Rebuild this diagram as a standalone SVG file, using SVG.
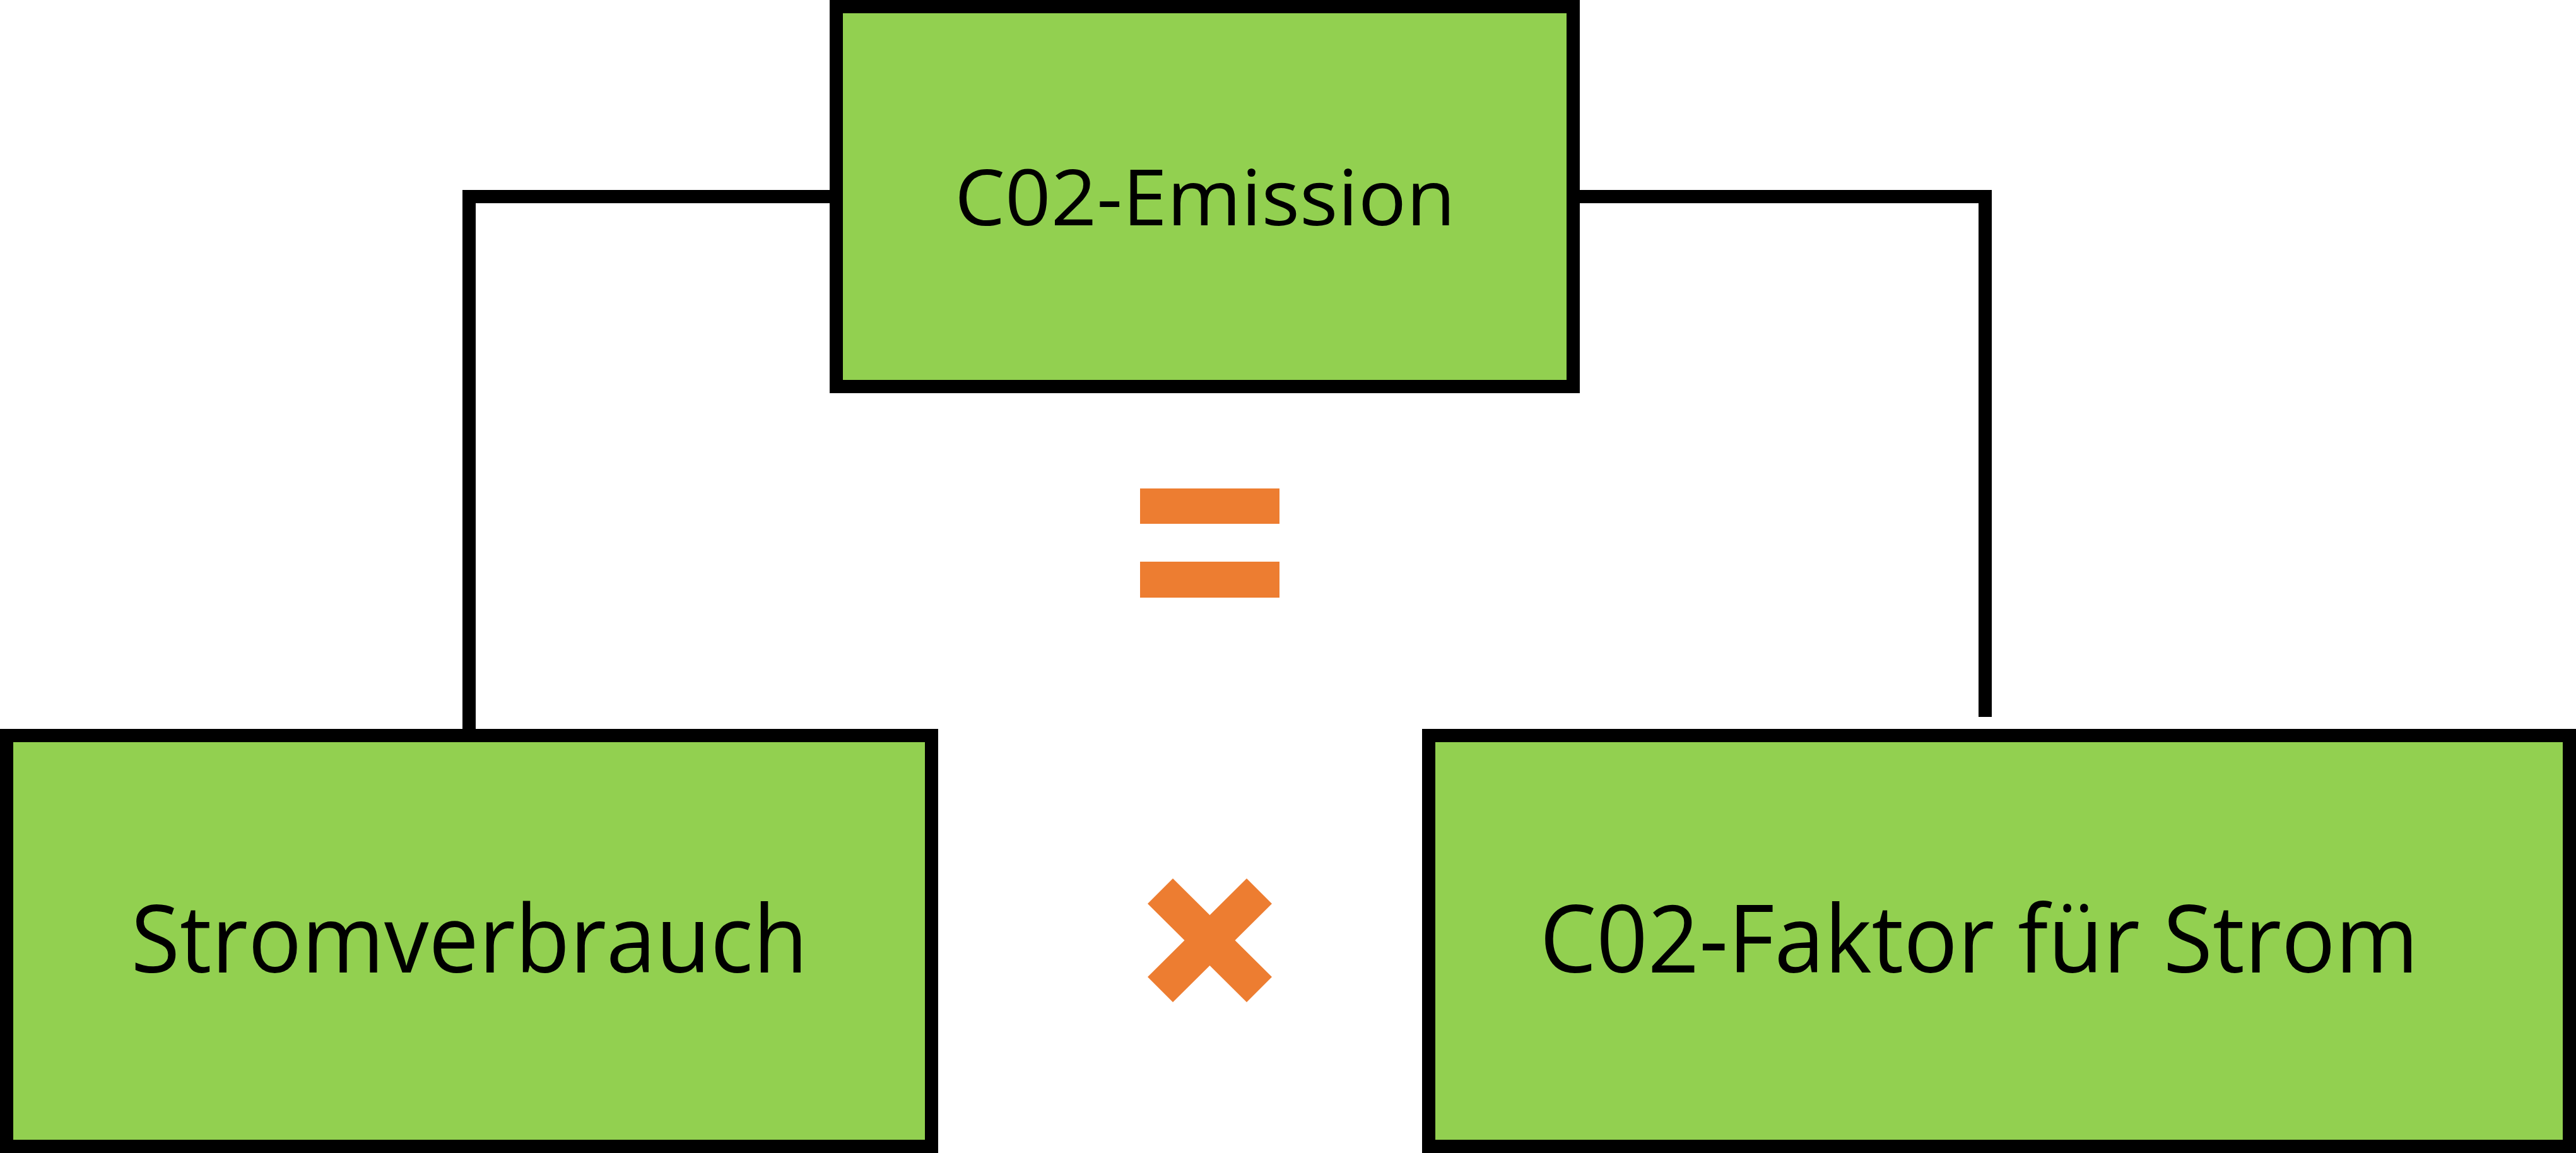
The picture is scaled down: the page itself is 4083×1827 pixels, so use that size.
<svg xmlns="http://www.w3.org/2000/svg" width="4083" height="1827" viewBox="0 0 4083 1827">
<style>
.box{fill:#92d050;stroke:#000;stroke-width:21}
.lbl{font-family:"Open Sans","Liberation Sans",sans-serif;fill:#000;text-anchor:middle}
.conn{fill:none;stroke:#000;stroke-width:21}
.op{fill:#ed7d31}
</style>
<rect width="4083" height="1827" fill="#fff"/>
<g id="connectors">
<polyline class="conn" points="1325,311.5 743.5,311.5 743.5,1160"/>
<polyline class="conn" points="2494,311.5 3146.5,311.5 3146.5,1136"/>
</g>
<g id="node-emission">
<rect class="box" x="1325.5" y="10.5" width="1168" height="602"/>
<text class="lbl" x="1910" y="357" font-size="122" textLength="794" lengthAdjust="spacingAndGlyphs">C02-Emission</text>
</g>
<g id="node-strom">
<rect class="box" x="10.5" y="1165.5" width="1466" height="651"/>
<text class="lbl" x="744" y="1541" font-size="148" textLength="1073" lengthAdjust="spacingAndGlyphs">Stromverbrauch</text>
</g>
<g id="node-faktor">
<rect class="box" x="2264.5" y="1165.5" width="1808" height="651"/>
<text class="lbl" x="3137" y="1541" font-size="148" textLength="1393" lengthAdjust="spacingAndGlyphs">C02-Faktor für Strom</text>
</g>
<g id="equals">
<rect class="op" x="1807" y="774" width="221" height="56"/>
<rect class="op" x="1807" y="890" width="221" height="57"/>
</g>
<g id="times">
<polygon class="op" points="1859,1392 1917.5,1450 1976,1392 2016,1432 1957.5,1490 2016,1548 1976,1588 1917.5,1530 1859,1588 1819,1548 1877.5,1490 1819,1432"/>
</g>
</svg>
